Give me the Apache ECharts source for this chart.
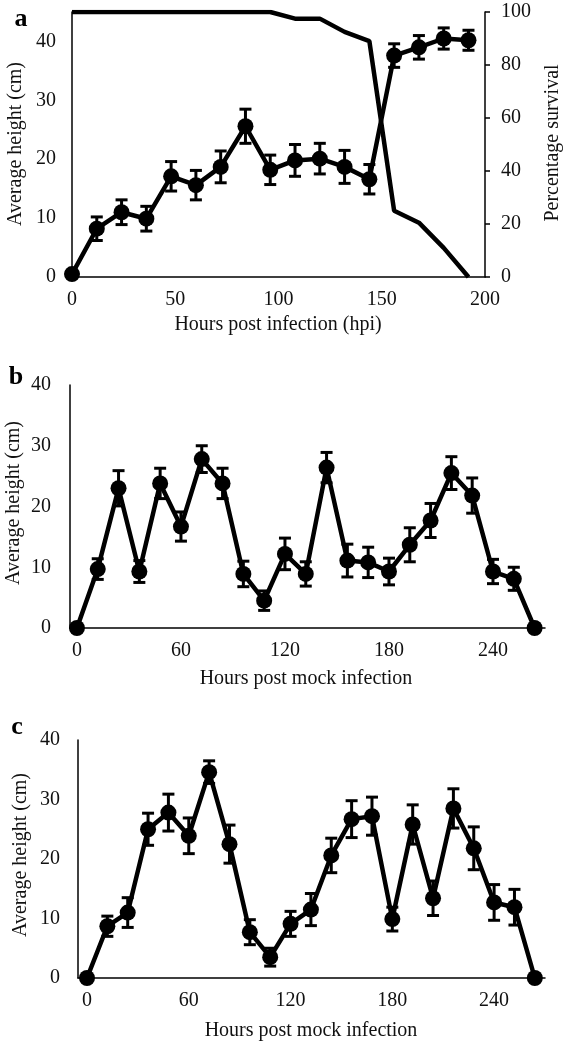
<!DOCTYPE html>
<html>
<head>
<meta charset="utf-8">
<script src="https://cdn.jsdelivr.net/npm/echarts@6/dist/echarts.min.js"></script>
<style>
html,body{margin:0;padding:0;background:#fff;}
#chart{width:566px;height:1047px;}
</style>
</head>
<body>
<div id="chart"></div>
<script>
// ---- Panel a data ----
const aHours = [0,12,24,36,48,60,72,84,96,108,120,132,144,156,168,180,192];
const aHeight = [0.5,8.2,11.0,9.9,17.1,15.6,18.7,25.6,18.2,19.8,20.1,18.7,16.6,37.6,39.0,40.5,40.2];
const aHeightErr = [0,2.0,2.1,2.1,2.5,2.5,2.7,2.9,2.5,2.7,2.6,2.8,2.5,2.0,2.0,1.8,1.7];
const aSurvival = [100,100,100,100,100,100,100,100,100,97.5,97.5,92.5,89,25,20.5,11,0];
const aXTicks = [0,50,100,150,200];

// ---- Panel b data ----
const bHours = [0,12,24,36,48,60,72,84,96,108,120,132,144,156,168,180,192,204,216,228,240,252,264];
const bHeight = [0,9.7,23.0,9.3,23.8,16.7,27.8,23.8,8.9,4.5,12.2,8.9,26.4,11.1,10.8,9.3,13.7,17.7,25.5,21.8,9.3,8.1,0];
const bErr = [0,1.7,2.9,1.8,2.5,2.4,2.2,2.5,2.1,1.6,2.6,2.0,2.5,2.7,2.5,2.2,2.8,2.8,2.7,2.9,2.0,1.9,0];
const bXTicks = [0,60,120,180,240];

// ---- Panel c data ----
const cHours = [0,12,24,36,48,60,72,84,96,108,120,132,144,156,168,180,192,204,216,228,240,252,264];
const cHeight = [0,8.7,11.0,25.0,27.8,23.9,34.6,22.5,7.7,3.5,9.1,11.5,20.6,26.7,27.2,9.9,25.8,13.4,28.5,21.8,12.7,11.9,0];
const cErr = [0,1.7,2.5,2.7,3.1,3.0,1.9,3.2,2.1,1.5,2.1,2.7,2.9,3.1,3.2,2.0,3.3,2.9,3.3,3.6,3.0,3.0,0];
const cXTicks = [0,60,120,180,240];

const FONT = 'Liberation Serif';
const zip2 = (xs, ys) => xs.map((x, i) => [x, ys[i]]);
const zip3 = (xs, ys, es) => xs.map((x, i) => [x, ys[i], es[i]]);

function errRender(params, api) {
  const x = api.value(0), y = api.value(1), e = api.value(2);
  if (!e) return null;
  const top = api.coord([x, y + e]);
  const bot = api.coord([x, y - e]);
  const hw = 6;
  const st = {stroke: '#000', lineWidth: 3};
  return {
    type: 'group',
    children: [
      {type: 'line', shape: {x1: top[0], y1: top[1], x2: bot[0], y2: bot[1]}, style: st},
      {type: 'line', shape: {x1: top[0] - hw, y1: top[1], x2: top[0] + hw, y2: top[1]}, style: st},
      {type: 'line', shape: {x1: bot[0] - hw, y1: bot[1], x2: bot[0] + hw, y2: bot[1]}, style: st}
    ]
  };
}

const axisLineStyle = {show: true, onZero: false, lineStyle: {color: '#000', width: 1.5}};
const labelStyle = {color: '#111', fontFamily: FONT, fontSize: 20};

function xAxisCfg(grid, min, max, ticks, interval) {
  const cfg = {
    gridIndex: grid, type: 'value', min: min, max: max,
    axisLine: axisLineStyle, axisTick: {show: false}, splitLine: {show: false},
    axisLabel: Object.assign({margin: 13}, labelStyle)
  };
  if (interval) cfg.interval = interval;
  else cfg.axisLabel.customValues = ticks;
  return cfg;
}

function heightLine(xi, yi, data) {
  return {
    type: 'line', xAxisIndex: xi, yAxisIndex: yi, data: data,
    symbol: 'circle', symbolSize: 16, z: 4,
    lineStyle: {color: '#000', width: 4.5}, itemStyle: {color: '#000'}
  };
}
function errSeries(xi, yi, data) {
  return {
    type: 'custom', xAxisIndex: xi, yAxisIndex: yi, data: data,
    encode: {x: 0, y: 1}, renderItem: errRender, z: 3
  };
}

const option = {
  animation: false,
  backgroundColor: '#fff',
  grid: [
    {left: 72, top: 12, width: 413, height: 265},
    {left: 70, top: 385, width: 475, height: 243},
    {left: 78, top: 740, width: 467, height: 238}
  ],
  xAxis: [
    xAxisCfg(0, 0, 200, aXTicks, 50),
    xAxisCfg(1, -4, 270, bXTicks, null),
    xAxisCfg(2, -5.3, 270, cXTicks, null)
  ],
  yAxis: [
    {gridIndex: 0, type: 'value', min: 0, max: 45, interval: 10,
     axisLine: axisLineStyle, axisTick: {show: false}, splitLine: {show: false},
     axisLabel: Object.assign({margin: 16, showMaxLabel: false}, labelStyle)},
    {gridIndex: 0, type: 'value', position: 'right', min: 0, max: 100, interval: 20,
     axisLine: axisLineStyle, axisTick: {show: true, length: 5, inside: false, lineStyle: {color: '#000', width: 1.5}},
     splitLine: {show: false},
     axisLabel: Object.assign({margin: 16}, labelStyle)},
    {gridIndex: 1, type: 'value', min: 0, max: 40, interval: 10,
     axisLine: axisLineStyle, axisTick: {show: false}, splitLine: {show: false},
     axisLabel: Object.assign({margin: 19}, labelStyle)},
    {gridIndex: 2, type: 'value', min: 0, max: 40, interval: 10,
     axisLine: axisLineStyle, axisTick: {show: false}, splitLine: {show: false},
     axisLabel: Object.assign({margin: 18}, labelStyle)}
  ],
  series: [
    {type: 'line', xAxisIndex: 0, yAxisIndex: 1, data: zip2(aHours, aSurvival),
     symbol: 'none', z: 2, lineStyle: {color: '#000', width: 4.5}},
    errSeries(0, 0, zip3(aHours, aHeight, aHeightErr)),
    heightLine(0, 0, zip2(aHours, aHeight)),
    errSeries(1, 2, zip3(bHours, bHeight, bErr)),
    heightLine(1, 2, zip2(bHours, bHeight)),
    errSeries(2, 3, zip3(cHours, cHeight, cErr)),
    heightLine(2, 3, zip2(cHours, cHeight))
  ],
  graphic: [
    {type: 'text', x: 21, y: 19, style: {text: 'a', font: 'bold 26px ' + FONT, fill: '#000', align: 'center', verticalAlign: 'middle'}},
    {type: 'text', x: 16, y: 377, style: {text: 'b', font: 'bold 26px ' + FONT, fill: '#000', align: 'center', verticalAlign: 'middle'}},
    {type: 'text', x: 17, y: 727, style: {text: 'c', font: 'bold 26px ' + FONT, fill: '#000', align: 'center', verticalAlign: 'middle'}},
    {type: 'text', x: 16, y: 144, rotation: Math.PI / 2, style: {text: 'Average height (cm)', font: '20px ' + FONT, fill: '#111', align: 'center', verticalAlign: 'middle'}},
    {type: 'text', x: 553, y: 143, rotation: Math.PI / 2, style: {text: 'Percentage survival', font: '20px ' + FONT, fill: '#111', align: 'center', verticalAlign: 'middle'}},
    {type: 'text', x: 278, y: 325, style: {text: 'Hours post infection (hpi)', font: '20px ' + FONT, fill: '#111', align: 'center', verticalAlign: 'middle'}},
    {type: 'text', x: 14, y: 503, rotation: Math.PI / 2, style: {text: 'Average height (cm)', font: '20px ' + FONT, fill: '#111', align: 'center', verticalAlign: 'middle'}},
    {type: 'text', x: 306, y: 679, style: {text: 'Hours post mock infection', font: '20px ' + FONT, fill: '#111', align: 'center', verticalAlign: 'middle'}},
    {type: 'text', x: 21, y: 855, rotation: Math.PI / 2, style: {text: 'Average height (cm)', font: '20px ' + FONT, fill: '#111', align: 'center', verticalAlign: 'middle'}},
    {type: 'text', x: 311, y: 1031, style: {text: 'Hours post mock infection', font: '20px ' + FONT, fill: '#111', align: 'center', verticalAlign: 'middle'}}
  ]
};

const chart = echarts.init(document.getElementById('chart'), null, {renderer: 'canvas'});
chart.setOption(option);
</script>
</body>
</html>
